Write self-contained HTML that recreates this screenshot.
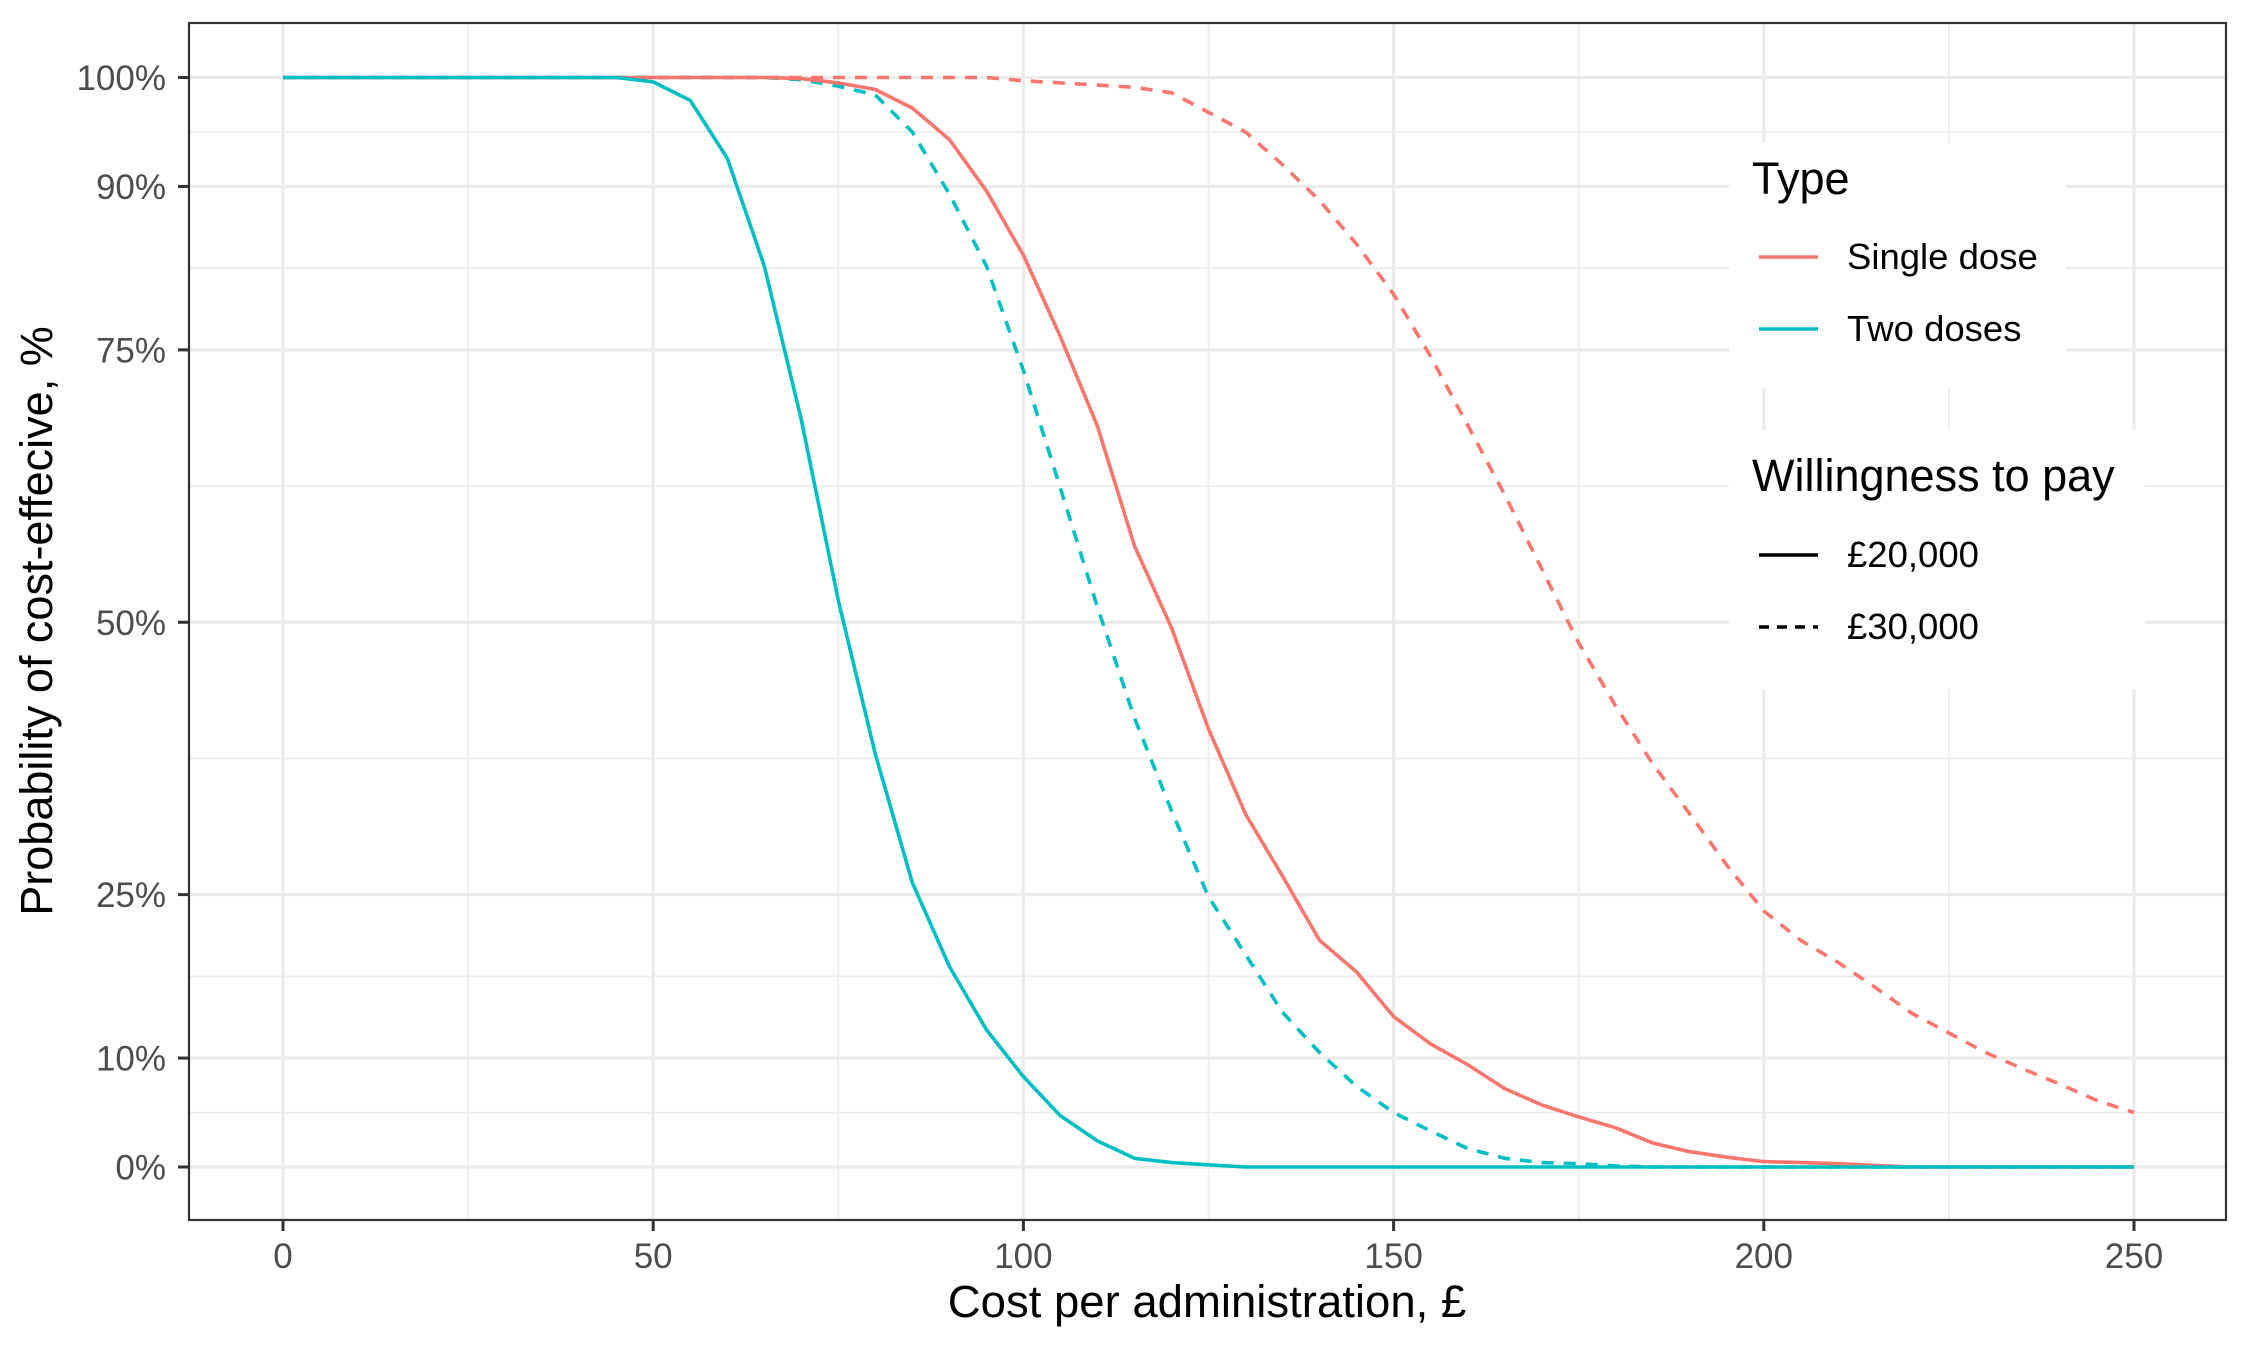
<!DOCTYPE html>
<html><head><meta charset="utf-8"><style>
html,body{margin:0;padding:0;background:#fff;}
svg{display:block;font-family:"Liberation Sans",Arial,sans-serif;}
</style></head><body>
<svg id="chart" width="2250" height="1350" viewBox="0 0 2250 1350">
<rect x="0" y="0" width="2250" height="1350" fill="#fff"/>
<g id="grid"></g>
<g id="lines"></g>
<g id="axes"></g>
<text x="1207" y="1317" font-size="45.5" text-anchor="middle" fill="#000">Cost per administration, £</text>
<text transform="translate(52,621) rotate(-90)" font-size="45" text-anchor="middle" fill="#000">Probability of cost-effecive, %</text>
<g>
<rect x="1729" y="143" width="337" height="245" fill="#fff"/>
<rect x="1729" y="430" width="416" height="259" fill="#fff"/>
<text x="1752" y="194" font-size="45" fill="#000">Type</text>
<g>
<line x1="1759" y1="257" x2="1818" y2="257" stroke="#F8766D" stroke-width="3.6"/>
<text x="1847" y="269" font-size="36.5" fill="#000">Single dose</text></g>
<g>
<line x1="1759" y1="329" x2="1818" y2="329" stroke="#00BFC4" stroke-width="3.6"/>
<text x="1847" y="341" font-size="36.5" fill="#000">Two doses</text></g>
<text x="1752" y="491" font-size="45" fill="#000">Willingness to pay</text>
<g>
<line x1="1759" y1="555" x2="1818" y2="555" stroke="#000" stroke-width="3.6"/>
<text x="1847" y="567" font-size="36.5" fill="#000">£20,000</text></g>
<g>
<line x1="1759" y1="627" x2="1818" y2="627" stroke="#000" stroke-width="3.6" stroke-dasharray="10 8"/>
<text x="1847" y="639" font-size="36.5" fill="#000">£30,000</text></g>
</g>
</svg>
<script>
const costs = [0,5,10,15,20,25,30,35,40,45,50,55,60,65,70,75,80,85,90,95,100,105,110,115,120,125,130,135,140,145,150,155,160,165,170,175,180,185,190,195,200,205,210,215,220,225,230,235,240,245,250];
const singleDose20k = [100,100,100,100,100,100,100,100,100,100,100,100,100,100,99.9,99.5,98.9,97.2,94.3,89.6,83.7,76.2,68,57,49.5,40.2,32.4,26.7,20.8,17.9,13.8,11.3,9.4,7.2,5.7,4.6,3.6,2.2,1.4,0.9,0.5,0.4,0.3,0.15,0,0,0,0,0,0,0];
const singleDose30k = [100,100,100,100,100,100,100,100,100,100,100,100,100,100,100,100,100,100,100,100,99.7,99.5,99.3,99.1,98.6,96.8,95,92,88.7,84.7,80.1,74.4,68.1,61.7,54.9,48.1,42.3,37,32.4,27.7,23.5,20.8,18.8,16.5,14.1,12.3,10.5,9,7.6,6.1,5];
const twoDoses20k = [100,100,100,100,100,100,100,100,100,100,99.6,97.9,92.6,82.7,68.6,52,37.9,26.1,18.4,12.6,8.3,4.7,2.4,0.8,0.4,0.2,0,0,0,0,0,0,0,0,0,0,0,0,0,0,0,0,0,0,0,0,0,0,0,0,0];
const twoDoses30k = [100,100,100,100,100,100,100,100,100,100,100,100,100,100,99.8,99.2,98.4,95,89.3,82.7,73.1,62.3,51.4,41.2,32.7,24.8,19.5,14.2,10.5,7.4,5,3.3,1.7,0.8,0.4,0.3,0.1,0,0,0,0,0,0,0,0,0,0,0,0,0,0];
const xTicks = [0,50,100,150,200,250];
const xMinor = [25,75,125,175,225];
const yTicks = [0,10,25,50,75,90,100];
const yTickLabels = ["0%","10%","25%","50%","75%","90%","100%"];
const yMinor = [5,17.5,37.5,62.5,82.5,95];

const P = {l:189, r:2226, t:23, b:1220};
const X0=283, X1=2134, Y0=1167, Y100=77.5;
const xs = v => X0 + (v/250)*(X1-X0);
const ys = v => Y0 + (v/100)*(Y100-Y0);
const NS="http://www.w3.org/2000/svg";
function mk(tag, attrs, parent){const e=document.createElementNS(NS,tag);for(const k in attrs)e.setAttribute(k,attrs[k]);parent.appendChild(e);return e;}
const grid=document.getElementById('grid'), lines=document.getElementById('lines'), axes=document.getElementById('axes');

yMinor.forEach(v=>{const e=mk('line',{x1:P.l,x2:P.r,y1:ys(v),y2:ys(v),stroke:'#ebebeb','stroke-width':1.6},grid);

});
xMinor.forEach(v=>{const e=mk('line',{x1:xs(v),x2:xs(v),y1:P.t,y2:P.b,stroke:'#ebebeb','stroke-width':1.6},grid);

});
yTicks.forEach(v=>{const e=mk('line',{x1:P.l,x2:P.r,y1:ys(v),y2:ys(v),stroke:'#ebebeb','stroke-width':3.2},grid);

});
xTicks.forEach(v=>{const e=mk('line',{x1:xs(v),x2:xs(v),y1:P.t,y2:P.b,stroke:'#ebebeb','stroke-width':3.2},grid);

});

function series(vals,color,dash,name){
  const d=costs.map((c,i)=>(i?'L':'M')+xs(c).toFixed(1)+','+ys(vals[i]).toFixed(1)).join(' ');
  const attrs={d:d,fill:'none',stroke:color,'stroke-width':3.6,'stroke-linejoin':'round'};
  if(dash)attrs['stroke-dasharray']='12 10';
  const e=mk('path',attrs,lines);
  
  
}
series(singleDose30k,'#F8766D',true,'line-single-dose-30000');
series(twoDoses30k,'#00BFC4',true,'line-two-doses-30000');
series(singleDose20k,'#F8766D',false,'line-single-dose-20000');
series(twoDoses20k,'#00BFC4',false,'line-two-doses-20000');

const frame=mk('rect',{x:P.l,y:P.t,width:P.r-P.l,height:P.b-P.t,fill:'none',stroke:'#333','stroke-width':2.2},axes);


yTicks.forEach((v,i)=>{
  const t=mk('line',{x1:P.l-11,x2:P.l,y1:ys(v),y2:ys(v),stroke:'#333','stroke-width':3},axes);
  
  
  const l=mk('text',{x:166,y:ys(v)+12.5,'font-size':35,'text-anchor':'end',fill:'#4d4d4d'},axes);
  l.textContent=yTickLabels[i];
  
  
});
xTicks.forEach(v=>{
  const t=mk('line',{x1:xs(v),x2:xs(v),y1:P.b,y2:P.b+11,stroke:'#333','stroke-width':3},axes);
  
  
  const l=mk('text',{x:xs(v),y:1268,'font-size':35,'text-anchor':'middle',fill:'#4d4d4d'},axes);
  l.textContent=String(v);
  
  
});
</script>
</body></html>
